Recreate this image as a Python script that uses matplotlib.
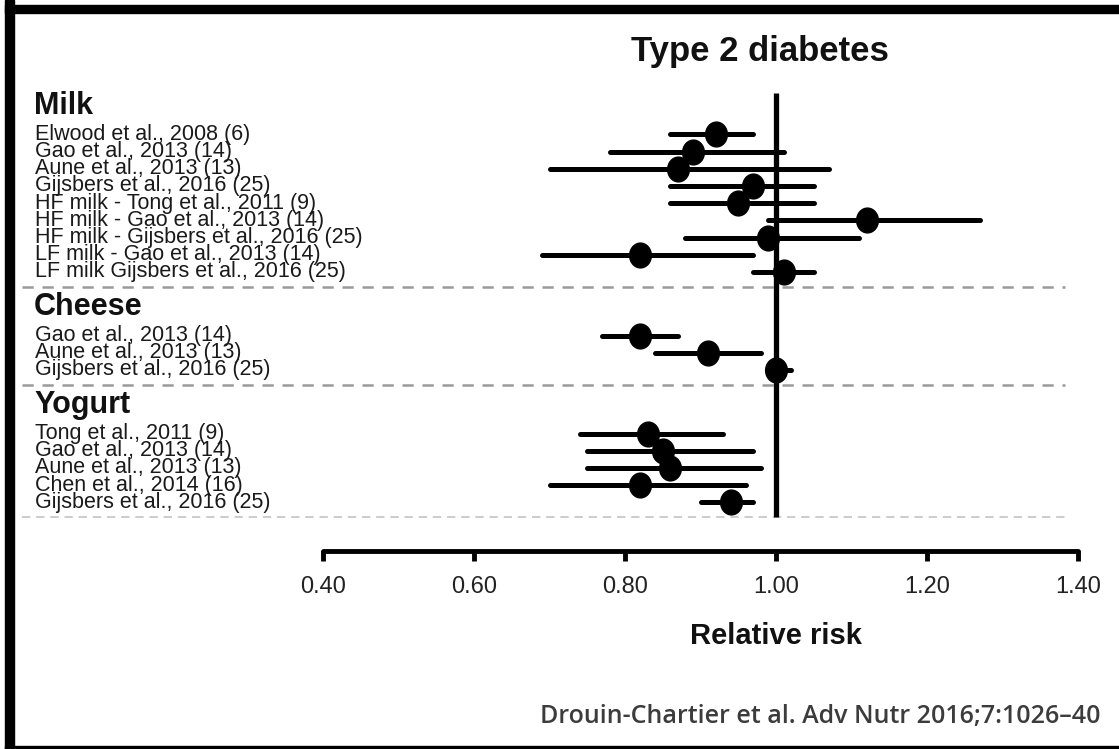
import matplotlib
matplotlib.use("Agg")
import matplotlib.pyplot as plt
from matplotlib.lines import Line2D
from matplotlib.patches import Rectangle
from matplotlib.markers import MarkerStyle
from matplotlib.transforms import Affine2D, blended_transform_factory

# ---------------- data ----------------
title = "Type 2 diabetes"
groups = ["Milk", "Cheese", "Yogurt"]

milk_labels = ["Elwood et al., 2008 (6)", "Gao et al., 2013 (14)", "Aune et al., 2013 (13)",
               "Gijsbers et al., 2016 (25)", "HF milk - Tong et al., 2011 (9)",
               "HF milk - Gao et al., 2013 (14)", "HF milk - Gijsbers et al., 2016 (25)",
               "LF milk - Gao et al., 2013 (14)", "LF milk Gijsbers et al., 2016 (25)"]
milk_rr = [0.92, 0.89, 0.87, 0.97, 0.95, 1.12, 0.99, 0.82, 1.01]
milk_lo = [0.86, 0.78, 0.70, 0.86, 0.86, 0.99, 0.88, 0.69, 0.97]
milk_hi = [0.97, 1.01, 1.07, 1.05, 1.05, 1.27, 1.11, 0.97, 1.05]

cheese_labels = ["Gao et al., 2013 (14)", "Aune et al., 2013 (13)", "Gijsbers et al., 2016 (25)"]
cheese_rr = [0.82, 0.91, 1.00]
cheese_lo = [0.77, 0.84, 0.99]
cheese_hi = [0.87, 0.98, 1.02]

yogurt_labels = ["Tong et al., 2011 (9)", "Gao et al., 2013 (14)", "Aune et al., 2013 (13)",
                 "Chen et al., 2014 (16)", "Gijsbers et al., 2016 (25)"]
yogurt_rr = [0.83, 0.85, 0.86, 0.82, 0.94]
yogurt_lo = [0.74, 0.75, 0.75, 0.70, 0.90]
yogurt_hi = [0.93, 0.97, 0.98, 0.96, 0.97]

xticks = [0.40, 0.60, 0.80, 1.00, 1.20, 1.40]
xlabel = "Relative risk"
citation = "Drouin-Chartier et al. Adv Nutr 2016;7:1026\u201340"

group_data = [
    (milk_labels, milk_rr, milk_lo, milk_hi),
    (cheese_labels, cheese_rr, cheese_lo, cheese_hi),
    (yogurt_labels, yogurt_rr, yogurt_lo, yogurt_hi),
]

# ---------------- figure ----------------
W, H = 1119, 749
fig = plt.figure(figsize=(W / 100, H / 100), dpi=100)
fig.patch.set_facecolor("white")

def fx(px):
    return px / W

def fy(py):
    return 1 - py / H

# axes: x 0.40 -> px 323, 1.40 -> px 1078 ; y from px 93 to 551
ax_top, ax_bot = 93, 551
ax = fig.add_axes([fx(323), fy(ax_bot), fx(1078) - fx(323), (ax_bot - ax_top) / H])
row0_px, row_h = 134.3, 17.2
ax.set_xlim(0.4, 1.4)
ax.set_ylim((ax_bot - row0_px) / row_h, (ax_top - row0_px) / row_h)

lab_font = "Liberation Sans"
blend = blended_transform_factory(fig.transFigure, ax.transData)
mk = MarkerStyle("o", transform=Affine2D().scale(0.92, 1.05))

y = 0.0
gap = 3.7
last_dash = None
for gi, (name, (labels, rr, lo, hi)) in enumerate(zip(groups, group_data)):
    if gi > 0:
        y += gap
    ax.text(fx(34), y - 1.65, name, transform=blend, ha="left", va="center",
            fontsize=22, fontweight="bold", family=lab_font, color="#111111")
    for i, lab in enumerate(labels):
        yy = y + i
        ax.plot([lo[i], hi[i]], [yy, yy], color="black", lw=3.6,
                solid_capstyle="round", zorder=3)
        ax.plot([rr[i]], [yy], marker=mk, markersize=17, color="black",
                zorder=4, linestyle="none")
        ax.text(fx(35), yy, lab, transform=blend, ha="left", va="center",
                fontsize=15.5, family=lab_font, color="#1a1a1a")
    y = y + len(labels) - 1
    dash_y = y + 0.85
    last_dash = dash_y
    last = gi == len(groups) - 1
    ax.add_line(Line2D([fx(22), fx(1065)], [dash_y, dash_y], transform=blend,
                       color="#c4c4c4" if last else "#9a9a9a",
                       lw=1.2 if last else 1.8,
                       dashes=(5, 3.5) if last else (4.5, 3.5),
                       clip_on=False, zorder=1))

# reference line at RR = 1
ax.plot([1.0, 1.0], [ax.get_ylim()[1], last_dash], color="black", lw=3.8, zorder=2,
        solid_capstyle="butt")

# axis styling
for s in ["top", "right", "left"]:
    ax.spines[s].set_visible(False)
ax.spines["bottom"].set_linewidth(3.5)
ax.spines["bottom"].set_capstyle("round")
ax.set_yticks([])
ax.set_xticks(xticks)
ax.set_xticklabels(["%.2f" % t for t in xticks], fontsize=17, family=lab_font,
                   color="#222222")
ax.tick_params(axis="x", direction="out", length=7, width=3.5, pad=11)
ax.set_xlabel(xlabel, fontsize=21, fontweight="bold", family=lab_font,
              labelpad=14, color="#111111")
ax.xaxis.set_label_coords(0.6, -0.155)
ax.patch.set_alpha(0)

# title
fig.text(fx(760), fy(52), title, ha="center", va="center", fontsize=25,
         fontweight="bold", family=lab_font, color="#111111")

# citation
fig.text(fx(1101), fy(717), citation, ha="right", va="center", fontsize=18,
         family="Open Sans", fontweight="semibold", color="#3c3c3c")

# frame (left, top, bottom)
fig.patches.append(Rectangle((fx(5), 0), fx(9), 1, transform=fig.transFigure,
                             color="black", zorder=10))
fig.patches.append(Rectangle((fx(5), fy(13)), 1, 8 / H, transform=fig.transFigure,
                             color="black", zorder=10))
fig.patches.append(Rectangle((fx(5), 0), 1, 3.5 / H, transform=fig.transFigure,
                             color="black", zorder=10))

fig.savefig("out.png", dpi=100, facecolor="white")
